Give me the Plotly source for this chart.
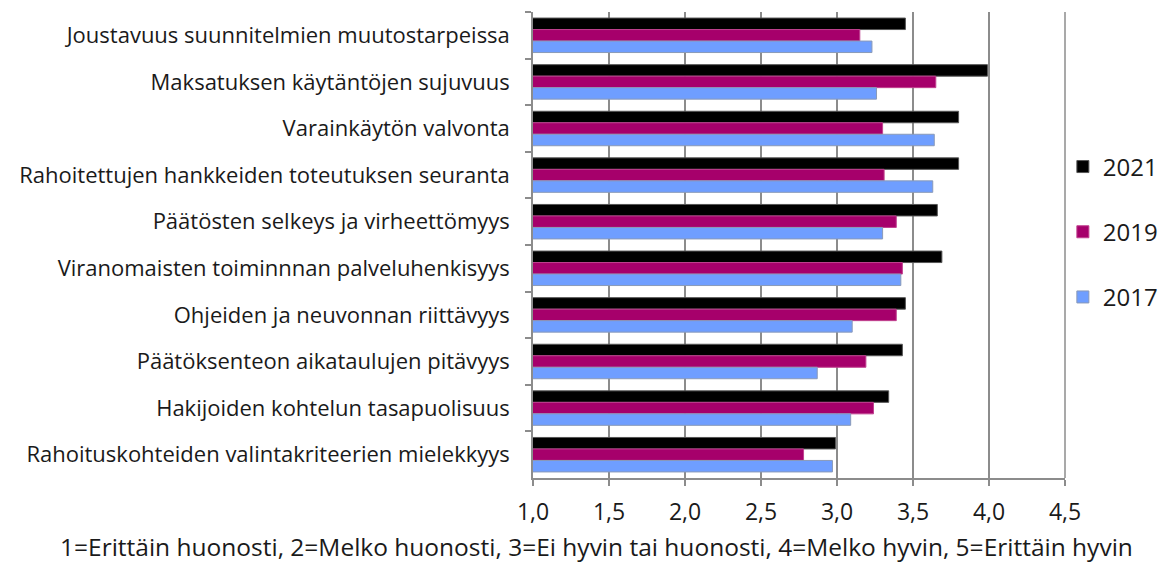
import plotly.graph_objects as go

categories = [
    "Joustavuus suunnitelmien muutostarpeissa",
    "Maksatuksen käytäntöjen sujuvuus",
    "Varainkäytön valvonta",
    "Rahoitettujen hankkeiden toteutuksen seuranta",
    "Päätösten selkeys ja virheettömyys",
    "Viranomaisten toiminnnan palveluhenkisyys",
    "Ohjeiden ja neuvonnan riittävyys",
    "Päätöksenteon aikataulujen pitävyys",
    "Hakijoiden kohtelun tasapuolisuus",
    "Rahoituskohteiden valintakriteerien mielekkyys",
]
v2021 = [3.45, 3.99, 3.80, 3.80, 3.66, 3.69, 3.45, 3.43, 3.34, 2.99]
v2019 = [3.15, 3.65, 3.30, 3.31, 3.39, 3.43, 3.39, 3.19, 3.24, 2.78]
v2017 = [3.23, 3.26, 3.64, 3.63, 3.30, 3.42, 3.10, 2.87, 3.09, 2.97]
x_ticks = [1.0, 1.5, 2.0, 2.5, 3.0, 3.5, 4.0, 4.5]
x_title = "1=Erittäin huonosti, 2=Melko huonosti, 3=Ei hyvin tai huonosti, 4=Melko hyvin, 5=Erittäin hyvin"

BLACK = "#000000"
MAGENTA = "#A6006B"
LIGHTBLUE = "#6F9EFF"
GRID = "#8C8C8C"
TEXT = "#1a1a1a"
FONT = "Open Sans, Noto Sans, sans-serif"

L, R, T, B = 533, 102, 12, 84
W, H = 1167, 562

fig = go.Figure()
for name, vals, col, edge in [
    ("2021", v2021, BLACK, "#555555"),
    ("2019", v2019, MAGENTA, "#C0408F"),
    ("2017", v2017, LIGHTBLUE, "#8A9AB8"),
]:
    fig.add_trace(go.Bar(
        name=name, y=categories, x=vals, orientation="h",
        base=0,
        marker=dict(color=col, line=dict(color=edge, width=1)),
        legendgroup=name,
    ))

fig.update_layout(
    width=W, height=H,
    barmode="group", bargap=0.26, bargroupgap=0,
    plot_bgcolor="white", paper_bgcolor="white",
    separators=", ",
    font=dict(family=FONT, size=22, color=TEXT),
    margin=dict(l=L, r=R, t=T, b=B, autoexpand=False),
    showlegend=True,
    legend=dict(
        x=0.996, xanchor="left", y=0.528, yanchor="middle",
        font=dict(size=24, color=TEXT), tracegroupgap=31,
        itemwidth=30, bgcolor="rgba(0,0,0,0)",
    ),
    xaxis=dict(
        range=[1.0, 4.5], tickvals=x_ticks, tickformat=".1f",
        showgrid=True, gridcolor=GRID, gridwidth=1.5,
        showline=True, linecolor=GRID, linewidth=1.5, mirror=False,
        ticks="outside", ticklen=6, tickcolor=GRID, tickwidth=1.5,
        tickfont=dict(size=23, color=TEXT), zeroline=False,
        automargin=False, ticklabelstandoff=7,
    ),
    yaxis=dict(
        autorange="reversed", type="category",
        showline=True, linecolor=GRID, linewidth=1.5,
        ticks="outside", ticklen=6, tickcolor=GRID, tickwidth=1.5,
        tickson="boundaries", showgrid=False,
        tickfont=dict(size=22, color=TEXT), ticklabelstandoff=17,
        automargin=False,
    ),
)
plot_w = W - L - R
plot_h = H - T - B
fig.add_annotation(
    text=x_title, x=(596 - L) / plot_w, xref="paper",
    y=-(546 - (H - B)) / plot_h, yref="paper",
    xanchor="center", yanchor="middle", showarrow=False,
    font=dict(size=24.5, color=TEXT),
)
# right edge gridline at 4.5 also acts as the frame
fig.add_shape(type="line", xref="paper", yref="paper", x0=1, x1=1, y0=0, y1=1,
              line=dict(color=GRID, width=1.5))

fig.write_html("out.html", config={"displayModeBar": False},
               post_script="document.body.style.margin='0';")
